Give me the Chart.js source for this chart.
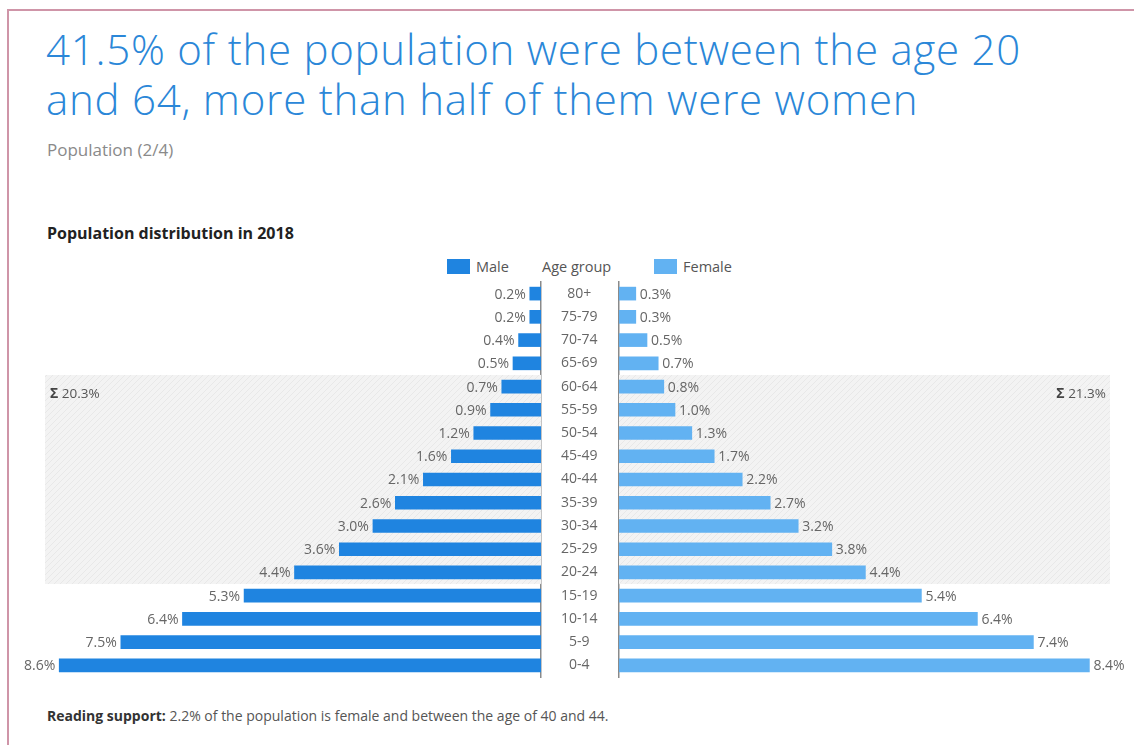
<!DOCTYPE html>
<html>
<head>
<meta charset="utf-8">
<script src="https://cdn.jsdelivr.net/npm/chart.js@4.4.1/dist/chart.umd.min.js"></script>
<style>
  html, body { margin: 0; padding: 0; background: #fff; width: 1134px; height: 745px; overflow: hidden; font-family: "Open Sans", sans-serif; }
  .frame { position: absolute; left: 7px; top: 9px; width: 1200px; height: 800px; border: 2px solid #cf95a8; }
  .abs { position: absolute; white-space: nowrap; }
  #title { left: 46px; top: 24px; font-size: 42px; line-height: 50px; color: #2b87d8; font-weight: 300; letter-spacing: 0.75px; }
  #sub { left: 47px; top: 138px; font-size: 17px; color: #8a8a8a; }
  #ctitle { left: 47px; top: 222px; font-size: 16px; font-weight: 700; color: #222; }
  .sw { position: absolute; width: 23px; height: 15px; }
  .lg { position: absolute; font-size: 14.5px; color: #555; top: 257px; }
  #note { left: 47px; top: 706px; font-size: 14px; color: #555; }
  #note b { color: #333; }
  canvas { position: absolute; }
</style>
</head>
<body>
<div class="frame"></div>
<div id="title" class="abs">41.5% of the population were between the age 20<br>and 64, more than half of them were women</div>
<div id="sub" class="abs">Population (2/4)</div>
<div id="ctitle" class="abs">Population distribution in 2018</div>
<div class="sw" style="left:447px;top:259px;background:#1f84e0"></div>
<div class="lg" style="left:476px">Male</div>
<div class="lg" style="left:542px">Age group</div>
<div class="sw" style="left:654px;top:259px;background:#62b2f2"></div>
<div class="lg" style="left:683px">Female</div>
<div id="note" class="abs"><b>Reading support:</b> 2.2% of the population is female and between the age of 40 and 44.</div>

<div style="position:absolute;left:0;top:272px;width:619px;height:415px"><canvas id="cm"></canvas></div>
<div style="position:absolute;left:541px;top:272px;width:593px;height:415px"><canvas id="cf"></canvas></div>

<script>
const ageGroups = ['80+','75-79','70-74','65-69','60-64','55-59','50-54','45-49','40-44','35-39','30-34','25-29','20-24','15-19','10-14','5-9','0-4'];
const maleValues = [0.2,0.2,0.4,0.5,0.7,0.9,1.2,1.6,2.1,2.6,3.0,3.6,4.4,5.3,6.4,7.5,8.6];
const femaleValues = [0.3,0.3,0.5,0.7,0.8,1.0,1.3,1.7,2.2,2.7,3.2,3.8,4.4,5.4,6.4,7.4,8.4];
const bandGroups = ['60-64','20-24'];
const maleBandTotal = '20.3%';
const femaleBandTotal = '21.3%';

const MALE = '#1f84e0', FEMALE = '#62b2f2';
const FONT = '"Open Sans", sans-serif';

function makePattern(ctx) {
  const c = document.createElement('canvas');
  c.width = 6; c.height = 6;
  const g = c.getContext('2d');
  g.fillStyle = '#f3f3f3'; g.fillRect(0, 0, 6, 6);
  g.strokeStyle = '#e8e8e8'; g.lineWidth = 1;
  g.beginPath();
  g.moveTo(0, 6); g.lineTo(6, 0);
  g.moveTo(-1, 1); g.lineTo(1, -1);
  g.moveTo(5, 7); g.lineTo(7, 5);
  g.stroke();
  return ctx.createPattern(c, 'repeat');
}

const bandPlugin = {
  id: 'band',
  beforeDatasetsDraw(chart, args, opts) {
    const y = chart.scales.y;
    const i0 = ageGroups.indexOf(bandGroups[0]);
    const i1 = ageGroups.indexOf(bandGroups[1]);
    const half = (y.getPixelForValue(1) - y.getPixelForValue(0)) / 2;
    const top = y.getPixelForValue(i0) - half;
    const bot = y.getPixelForValue(i1) + half;
    const ctx = chart.ctx;
    const x0 = opts.side === 'left' ? opts.edge : chart.chartArea.left;
    const x1 = opts.side === 'left' ? chart.chartArea.right : opts.edge;
    ctx.save();
    ctx.fillStyle = makePattern(ctx);
    ctx.fillRect(x0, top, x1 - x0, bot - top);
    ctx.textBaseline = 'middle';
    const ty = top + 19;
    ctx.font = 'bold 14px ' + FONT;
    const sig = '\u03A3';
    const sw = ctx.measureText(sig).width;
    ctx.font = '13.5px ' + FONT;
    const tw = ctx.measureText(' ' + opts.text).width;
    const start = opts.side === 'left' ? x0 + 5 : x1 - 4 - sw - tw;
    ctx.textAlign = 'left';
    ctx.fillStyle = '#444';
    ctx.font = 'bold 14px ' + FONT;
    ctx.fillText(sig, start, ty);
    ctx.fillStyle = '#555';
    ctx.font = '13.5px ' + FONT;
    ctx.fillText(' ' + opts.text, start + sw, ty);
    ctx.restore();
  }
};

const valuePlugin = {
  id: 'vals',
  afterDatasetsDraw(chart, args, opts) {
    const ctx = chart.ctx;
    const meta = chart.getDatasetMeta(0);
    const data = chart.data.datasets[0].data;
    ctx.save();
    ctx.font = '14px ' + FONT;
    ctx.fillStyle = '#666';
    ctx.textBaseline = 'middle';
    ctx.textAlign = opts.side === 'left' ? 'right' : 'left';
    meta.data.forEach((bar, i) => {
      const x = opts.side === 'left' ? bar.x - 4 : bar.x + 4;
      ctx.fillText(data[i].toFixed(1) + '%', x, bar.y + 1);
    });
    ctx.restore();
  }
};

Chart.defaults.font.family = FONT;
Chart.defaults.animation = false;

new Chart(document.getElementById('cm'), {
  type: 'bar',
  data: { labels: ageGroups, datasets: [{ label: 'Male', data: maleValues, backgroundColor: MALE, barThickness: 13 }] },
  options: {
    indexAxis: 'y', responsive: true, maintainAspectRatio: false,
    layout: { padding: { left: 20, top: 10, bottom: 10, right: 0 } },
    plugins: { legend: { display: false }, tooltip: { enabled: false },
      band: { side: 'left', edge: 45, text: maleBandTotal },
      vals: { side: 'left' } },
    scales: {
      x: { display: false, reverse: true, min: 0, max: 9.3 },
      y: { position: 'right', grid: { display: false, drawTicks: true, tickLength: 20 },
           border: { display: true, color: '#8a8a8a', width: 1.5 },
           ticks: { color: '#666', font: { size: 14 }, crossAlign: 'center', padding: 0 },
           afterFit(axis) { axis.width = 78; axis.paddingTop = 0; axis.paddingBottom = 0; } }
    }
  },
  plugins: [bandPlugin, valuePlugin]
});

new Chart(document.getElementById('cf'), {
  type: 'bar',
  data: { labels: ageGroups, datasets: [{ label: 'Female', data: femaleValues, backgroundColor: FEMALE, barThickness: 13 }] },
  options: {
    indexAxis: 'y', responsive: true, maintainAspectRatio: false,
    layout: { padding: { left: 0, top: 10, bottom: 10, right: 11 } },
    plugins: { legend: { display: false }, tooltip: { enabled: false },
      band: { side: 'right', edge: 569, text: femaleBandTotal },
      vals: { side: 'right' } },
    scales: {
      x: { display: false, min: 0, max: 9.0 },
      y: { position: 'left', grid: { display: false, drawTicks: false },
           border: { display: true, color: '#8a8a8a', width: 1.5 },
           ticks: { display: false },
           afterFit(axis) { axis.width = 78; } }
    }
  },
  plugins: [bandPlugin, valuePlugin]
});
</script>
</body>
</html>
